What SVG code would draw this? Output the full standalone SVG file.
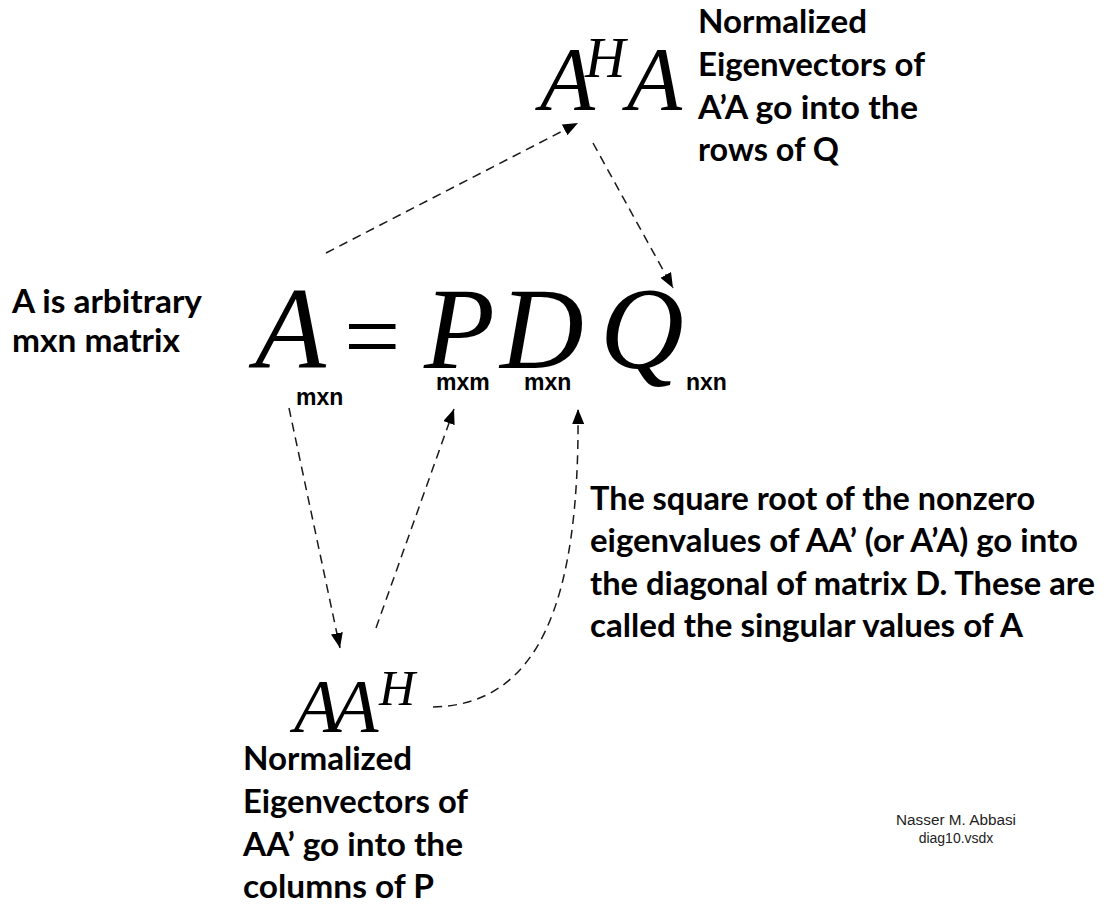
<svg xmlns="http://www.w3.org/2000/svg" width="1115" height="907" viewBox="0 0 1115 907">
<style>
.lbl{font-family:Lato,"Open Sans",sans-serif;font-weight:bold;font-size:32px;fill:#000}
.math{font-family:"Liberation Serif","Times New Roman",serif;font-style:italic;fill:#000}
.sub{font-family:"Liberation Sans",Arial,sans-serif;font-weight:bold;font-size:23px;fill:#000}
.sig{font-family:"Liberation Sans",Arial,sans-serif;font-size:14px;fill:#222;text-anchor:middle}
.conn{fill:none;stroke:#1a1a1a;stroke-width:1.5;stroke-dasharray:9 6}
</style>
<defs>
<marker id="ah" markerUnits="userSpaceOnUse" markerWidth="16" markerHeight="12" refX="15" refY="6" orient="auto">
<path d="M0,0 L15,6 L0,12 z" fill="#000"/>
</marker>
</defs>
<rect width="1115" height="907" fill="#fff"/>

<g id="connectors">
<path class="conn" d="M326,253 L578,123" marker-end="url(#ah)"/>
<path class="conn" d="M593,143 L673,288" marker-end="url(#ah)"/>
<path class="conn" d="M289,408 L340,648" marker-end="url(#ah)"/>
<path class="conn" d="M376,628 L454,409" marker-end="url(#ah)"/>
<path class="conn" d="M433,707 C540,705 580,600 578,409" marker-end="url(#ah)"/>
</g>

<g id="node-AHA">
<text class="math" x="540" y="110" font-size="90">A</text>
<text class="math" x="585" y="77" font-size="56">H</text>
<text class="math" x="627" y="110" font-size="90">A</text>
</g>

<g id="label-AHA">
<text class="lbl" x="698" y="33" textLength="169" lengthAdjust="spacingAndGlyphs">Normalized</text>
<text class="lbl" x="698" y="76" textLength="227" lengthAdjust="spacingAndGlyphs">Eigenvectors of</text>
<text class="lbl" x="698" y="119" textLength="220" lengthAdjust="spacingAndGlyphs">A’A go into the</text>
<text class="lbl" x="698" y="161" textLength="141" lengthAdjust="spacingAndGlyphs">rows of Q</text>
</g>

<g id="label-A">
<text class="lbl" x="12" y="313" textLength="190" lengthAdjust="spacingAndGlyphs">A is arbitrary</text>
<text class="lbl" x="12" y="352" textLength="168" lengthAdjust="spacingAndGlyphs">mxn matrix</text>
</g>

<g id="node-equation">
<text class="math" x="255" y="368" font-size="116">A</text>
<text font-family="Liberation Serif,serif" x="344" y="370" font-size="100" fill="#000">=</text>
<text class="math" x="424" y="368" font-size="116">P</text>
<text class="math" x="500" y="368" font-size="116">D</text>
<text class="math" x="600" y="368" font-size="116">Q</text>
<text class="sub" x="296" y="405">mxn</text>
<text class="sub" x="436" y="390">mxm</text>
<text class="sub" x="524" y="390">mxn</text>
<text class="sub" x="686" y="390">nxn</text>
</g>

<g id="label-D">
<text class="lbl" x="590" y="510" textLength="445" lengthAdjust="spacingAndGlyphs">The square root of the nonzero</text>
<text class="lbl" x="590" y="552" textLength="488" lengthAdjust="spacingAndGlyphs">eigenvalues of AA’ (or A’A) go into</text>
<text class="lbl" x="590" y="595" textLength="505" lengthAdjust="spacingAndGlyphs">the diagonal of matrix D. These are</text>
<text class="lbl" x="590" y="637" textLength="433" lengthAdjust="spacingAndGlyphs">called the singular values of A</text>
</g>

<g id="node-AAH">
<text class="math" x="294" y="732" font-size="76">A</text>
<text class="math" x="332" y="732" font-size="76">A</text>
<text class="math" x="379" y="705" font-size="50">H</text>
</g>

<g id="label-AAH">
<text class="lbl" x="243" y="770" textLength="169" lengthAdjust="spacingAndGlyphs">Normalized</text>
<text class="lbl" x="243" y="813" textLength="225" lengthAdjust="spacingAndGlyphs">Eigenvectors of</text>
<text class="lbl" x="243" y="856" textLength="220" lengthAdjust="spacingAndGlyphs">AA’ go into the</text>
<text class="lbl" x="243" y="898" textLength="191" lengthAdjust="spacingAndGlyphs">columns of P</text>
</g>

<g id="signature">
<text class="sig" x="956" y="825" textLength="120" lengthAdjust="spacingAndGlyphs">Nasser M. Abbasi</text>
<text class="sig" x="956" y="843">diag10.vsdx</text>
</g>
</svg>
